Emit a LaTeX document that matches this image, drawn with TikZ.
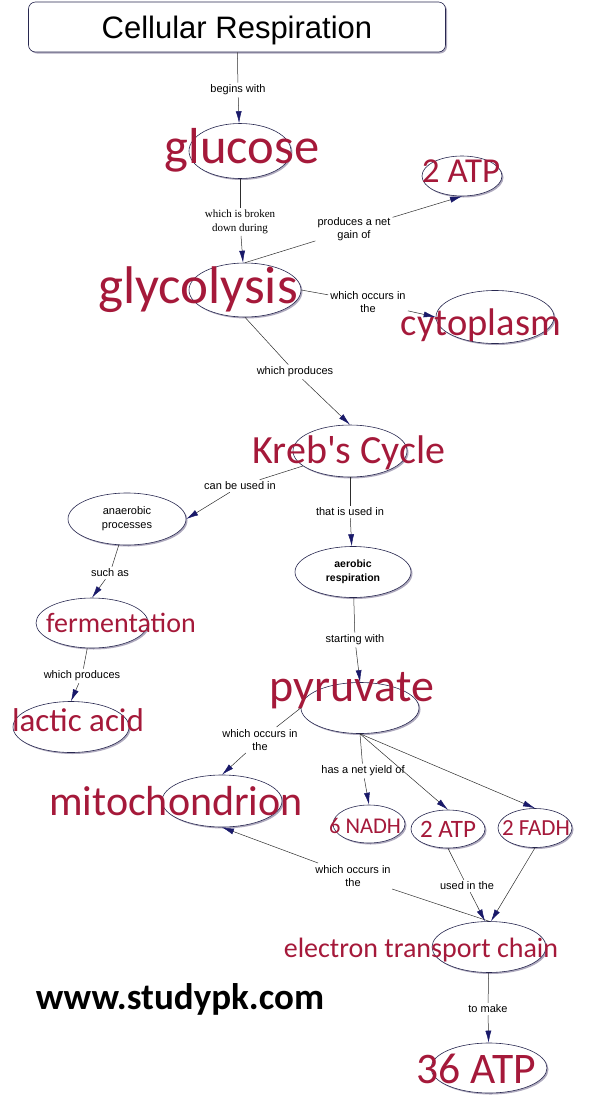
\documentclass[tikz,border=0pt]{standalone}
\usepackage{fontspec}
\setmainfont{Liberation Sans}
\newfontfamily\cmapfont{Carlito}
\newfontfamily\linkserif{Liberation Serif}
\usetikzlibrary{shapes.geometric,shadows,arrows.meta}

\definecolor{conceptred}{RGB}{165,25,58}
\definecolor{tipnavy}{RGB}{25,25,105}
\definecolor{ovalline}{RGB}{40,40,80}
\definecolor{ovalshadow}{RGB}{175,170,190}
\definecolor{linkline}{RGB}{45,45,45}

\newcommand{\csize}[1]{\cmapfont\fontsize{#1}{#1}\selectfont}

\begin{document}
\begin{tikzpicture}[x=1pt, y=-1pt]

\tikzstyle{every node} = [inner sep=0pt]
\tikzstyle{oval} = [ellipse, draw=ovalline, line width=.6pt, fill=white, drop shadow={shadow xshift=1.5pt, shadow yshift=-1.5pt, fill=ovalshadow, opacity=1}]
\tikzstyle{concept} = [anchor=base, text=conceptred]
\tikzstyle{link} = [inner sep=2pt, align=center, font=\fontsize{11}{13.5}\selectfont]
\tikzstyle{conn} = [draw=linkline, line width=.5pt]
\tikzstyle{tip} = [conn, -{Latex[length=12pt, width=6pt, color=tipnavy]}]

\useasboundingbox (0,0) rectangle (594,1098);

% title
\node (title) at (237,27) [draw=ovalline, line width=.6pt, rounded corners=7pt, fill=white, minimum width=417pt, minimum height=50pt, text depth=0pt, drop shadow={shadow xshift=1.5pt, shadow yshift=-1.5pt, fill=ovalshadow, opacity=1}, font=\fontsize{31}{31}\selectfont] {Cellular Respiration};

% ovals
\node (gluc) at (240,151) [oval, minimum width=102pt, minimum height=55pt] {};
\node (glyc) at (245,290) [oval, minimum width=112pt, minimum height=54pt] {};
\node (atpa) at (462,176) [oval, minimum width=80pt, minimum height=40pt] {};
\node (cyto) at (495,317) [oval, minimum width=118pt, minimum height=53pt] {};
\node (kreb) at (350,451) [oval, minimum width=114pt, minimum height=52pt] {};
\node (anaer) at (127,519) [oval, minimum width=118pt, minimum height=52pt, align=center, font=\fontsize{11}{14}\selectfont] {anaerobic\\processes};
\node (aer) at (353,572) [oval, minimum width=116pt, minimum height=51pt, align=center, font=\bfseries\fontsize{10.5}{14}\selectfont] {aerobic\\respiration};
\node (ferm) at (92,623) [oval, minimum width=112pt, minimum height=50pt] {};
\node (lactic) at (71,727) [oval, minimum width=116pt, minimum height=51pt] {};
\node (pyr) at (360,708) [oval, minimum width=118pt, minimum height=51pt] {};
\node (mito) at (222,801) [oval, minimum width=120pt, minimum height=52pt] {};
\node (nadh) at (369,824) [oval, minimum width=72pt, minimum height=38pt] {};
\node (atpb) at (448,829) [oval, minimum width=74pt, minimum height=38pt] {};
\node (fadh) at (535,828) [oval, minimum width=74pt, minimum height=39pt] {};
\node (etc) at (489,947) [oval, minimum width=114pt, minimum height=51pt] {};
\node (atpc) at (489,1068) [oval, minimum width=116pt, minimum height=50pt] {};

% concept words
\node[concept, font=\csize{50.6}] (glucw) at (242,163) {glucose};
\node[concept, font=\csize{53}] (glycw) at (198,303) {glycolysis};
\node[concept, font=\csize{35}] (atpaw) at (461,182) {2 ATP};
\node[concept, font=\csize{38.5}] (cytow) at (481,335) {cytoplasm};
\node[concept, font=\csize{40}] (krebw) at (349,463) {Kreb's Cycle};
\node[concept, font=\csize{28}] (fermw) at (121,632) {fermentation};
\node[concept, font=\csize{33}] (lacticw) at (78,731) {lactic acid};
\node[concept, font=\csize{46}] (pyrw) at (352,701) {pyruvate};
\node[concept, font=\csize{42}] (mitow) at (176,815) {mitochondrion};
\node[concept, font=\csize{22.5}] (nadhw) at (365,833) {6 NADH};
\node[concept, font=\csize{25}] (atpbw) at (448,837) {2 ATP};
\node[concept, font=\csize{23}] (fadhw) at (536,835) {2 FADH};
\node[concept, font=\csize{28}] (etcw) at (421,957) {electron transport chain};
\node[concept, font=\csize{43.6}] (atpcw) at (476,1083) {36 ATP};

% linking words
\node[link] (begins) at (238,90) {begins with};
\node[link, font=\linkserif\fontsize{11}{13.5}\selectfont] (broken) at (240,222) {which is broken\\down during};
\node[link] (netgain) at (354,229) {produces a net\\gain of};
\node[link] (occursa) at (368,302) {which occurs in\\the};
\node[link] (producesa) at (295,372) {which produces};
\node[link] (canbe) at (240,486) {can be used in};
\node[link] (thatis) at (350,512) {that is used in};
\node[link] (suchas) at (110,573) {such as};
\node[link] (starting) at (355,640) {starting with};
\node[link] (producesb) at (82,676) {which produces};
\node[link] (occursb) at (260,740) {which occurs in\\the};
\node[link] (netyield) at (363,771) {has a net yield of};
\node[link] (occursc) at (353,876) {which occurs in\\the};
\node[link] (usedin) at (467,886) {used in the};
\node[link] (tomake) at (488,1009) {to make};

\node[anchor=base, font=\cmapfont\bfseries\fontsize{37}{37}\selectfont] (site) at (180,1009) {www.studypk.com};

% connectors
\draw[conn] (title) -- (begins);
\draw[tip] (begins) -- (gluc);
\draw[conn] (gluc) -- (broken);
\draw[tip] (broken) -- (glyc);
\draw[conn] (glyc.north) -- (netgain);
\draw[tip] (netgain) -- (atpa.south);
\draw[conn] (glyc.east) -- (occursa);
\draw[tip] (occursa) -- (cyto.west);
\draw[conn] (glyc.south) -- (producesa);
\draw[tip] (producesa) -- (kreb.north);
\draw[conn] (kreb) -- (canbe);
\draw[tip] (canbe) -- (anaer.east);
\draw[conn] (kreb) -- (thatis);
\draw[tip] (thatis) -- (aer);
\draw[conn] (anaer) -- (suchas);
\draw[tip] (suchas) -- (ferm.north);
\draw[conn] (aer) -- (starting);
\draw[tip] (starting) -- (pyr.north);
\draw[conn] (ferm) -- (producesb);
\draw[tip] (producesb) -- (lactic.north);
\draw[conn] (pyr.west) -- (occursb);
\draw[tip] (occursb) -- (mito.north);
\draw[conn] (pyr.south) -- (netyield);
\draw[tip] (netyield) -- (nadh.north);
\draw[tip] (pyr.south) -- (atpb.north);
\draw[tip] (pyr.south) -- (fadh.north);
\draw[conn] (etc.north) -- (occursc);
\draw[tip] (occursc) -- (mito.south);
\draw[conn] (atpb.south) -- (usedin);
\draw[tip] (usedin) -- ([xshift=-4pt]etc.north);
\draw[tip] (fadh.south) -- ([xshift=2pt]etc.north);
\draw[conn] (etc) -- (tomake);
\draw[tip] (tomake) -- (atpc);
\end{tikzpicture}
\end{document}
